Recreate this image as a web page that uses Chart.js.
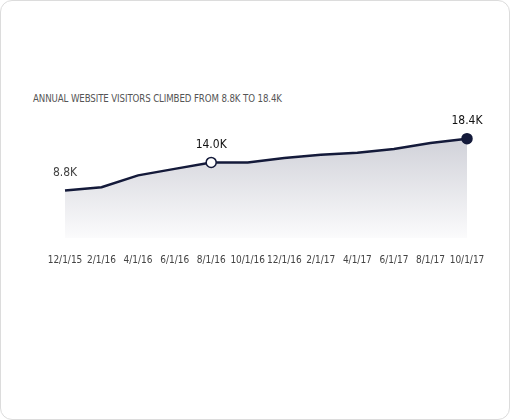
<!DOCTYPE html>
<html>
<head>
<meta charset="utf-8">
<script src="https://cdn.jsdelivr.net/npm/chart.js@4"></script>
<style>
  body { margin: 0; background: #fff; font-family: "DejaVu Sans Condensed", "DejaVu Sans", sans-serif; }
  .card { position: absolute; left: 0; top: 0; width: 508px; height: 418px; border: 1px solid #dcdcdc; border-radius: 12px; }
  .title { position: absolute; left: 33px; top: 93px; font-size: 9.6px; color: #555; letter-spacing: -0.1px; }
  .wrap { position: absolute; left: 0; top: 110px; width: 510px; height: 164px; }
</style>
</head>
<body>
<div class="card"></div>
<div class="title">ANNUAL WEBSITE VISITORS CLIMBED FROM 8.8K TO 18.4K</div>
<div class="wrap"><canvas id="chart"></canvas></div>
<script>
const dates = ['12/1/15', '2/1/16', '4/1/16', '6/1/16', '8/1/16', '10/1/16', '12/1/16', '2/1/17', '4/1/17', '6/1/17', '8/1/17', '10/1/17'];
const visitors = [8.8, 9.4, 11.6, 12.8, 14.0, 14.0, 14.8, 15.4, 15.8, 16.5, 17.6, 18.4];
const labelled = [0, 4, 11];

const navy = '#141a3a';
const font = '"DejaVu Sans Condensed", "DejaVu Sans", sans-serif';

const valueLabels = {
    id: 'valueLabels',
    afterDatasetsDraw(chart) {
        const c = chart.ctx;
        const pts = chart.getDatasetMeta(0).data;
        c.save();
        c.font = '12px ' + font;
        c.textAlign = 'center';
        c.textBaseline = 'bottom';
        labelled.forEach(i => {
            c.fillStyle = i === 0 ? '#444' : '#111';
            c.fillText(visitors[i].toFixed(1) + 'K', pts[i].x, pts[i].y - 12);
        });
        c.restore();
    }
};

const ctx = document.getElementById('chart').getContext('2d');
new Chart(ctx, {
    type: 'line',
    data: {
        labels: dates,
        datasets: [{
            data: visitors,
            borderColor: navy,
            borderWidth: 2.5,
            fill: 'start',
            backgroundColor: (c) => {
                const a = c.chart.chartArea;
                if (!a) return '#ddd';
                const g = c.chart.ctx.createLinearGradient(0, a.top, 0, a.bottom);
                g.addColorStop(0, '#cdced6');
                g.addColorStop(1, '#fbfbfc');
                return g;
            },
            tension: 0,
            pointRadius: visitors.map((v, i) => i === 4 ? 5 : i === 11 ? 5 : 0),
            pointBackgroundColor: visitors.map((v, i) => i === 4 ? '#fff' : navy),
            pointBorderColor: navy,
            pointBorderWidth: 1.5
        }]
    },
    options: {
        responsive: true,
        maintainAspectRatio: false,
        animation: false,
        layout: { padding: { left: 65, right: 43, top: 20, bottom: 0 } },
        plugins: { legend: { display: false }, tooltip: { enabled: false } },
        scales: {
            y: { display: false, min: 0, max: 20 },
            x: {
                grid: { display: false },
                border: { display: false },
                ticks: { color: '#444', font: { family: font, size: 10 }, maxRotation: 0, autoSkip: false, padding: 8 }
            }
        }
    },
    plugins: [valueLabels]
});
</script>
</body>
</html>
